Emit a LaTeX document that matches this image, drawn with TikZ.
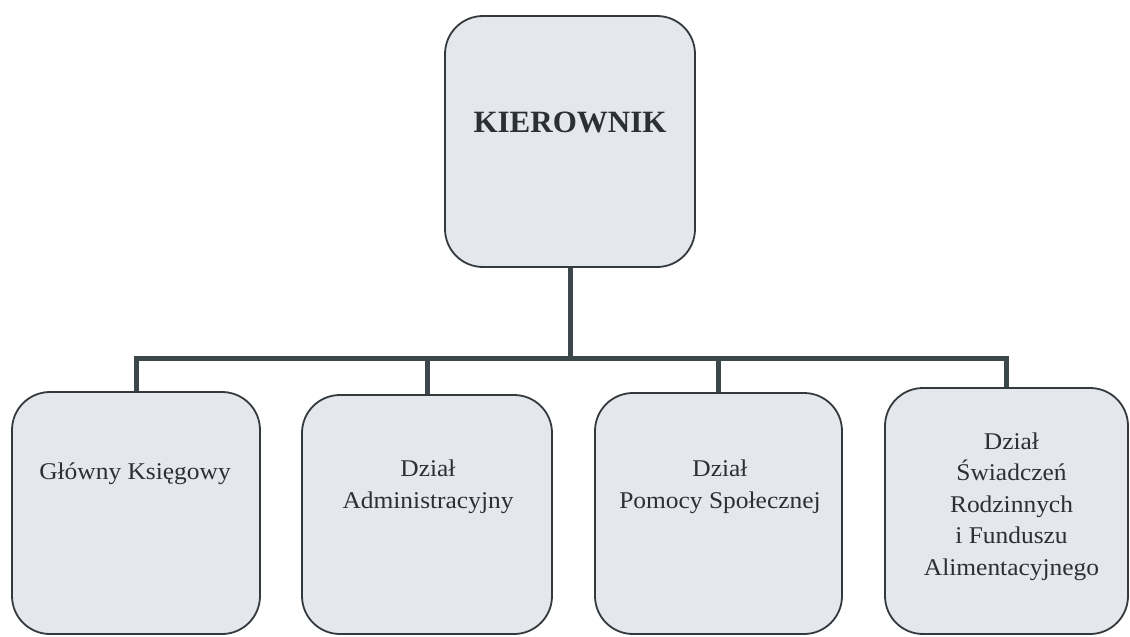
\documentclass[tikz,border=0pt]{standalone}
\usepackage{fontspec}
\setmainfont{Liberation Serif}
\newfontfamily\boxfont{Liberation Serif}[FakeStretch=1.06]
\definecolor{boxfill}{HTML}{E4E7EC}
\definecolor{boxline}{HTML}{34393D}
\definecolor{connline}{HTML}{3B474B}
\definecolor{txt}{HTML}{2B3034}
\begin{document}
\begin{tikzpicture}[x=1pt,y=-1pt,
  orgbox/.style={draw=boxline, line width=1.8pt, fill=boxfill, rounded corners=38pt, inner sep=0pt},
  conn/.style={draw=connline, line width=5pt},
  lbl/.style={text=txt, align=center, inner sep=0pt, anchor=base, font=\boxfont\fontsize{24}{31.4}\selectfont}]
\useasboundingbox (0,0) rectangle (1130,637);
\path[fill=white] (0,0) rectangle (1130,637);
\node[orgbox, minimum width=250pt, minimum height=251pt] (top) at (570,141.5) {};
\node[orgbox, minimum width=248pt, minimum height=242pt] (b1) at (136,513) {};
\node[orgbox, minimum width=250pt, minimum height=239pt] (b2) at (427,514.5) {};
\node[orgbox, minimum width=247pt, minimum height=241pt] (b3) at (718.5,513.5) {};
\node[orgbox, minimum width=243pt, minimum height=246pt] (b4) at (1006.5,511) {};
\coordinate (bus) at (570,358);
\draw[conn] (top.south) -- (bus);
\draw[conn] (b1.north) |- (bus) -| (b4.north);
\draw[conn] (b2.north) -- (b2.north |- bus);
\draw[conn] (b3.north) -- (b3.north |- bus);
\node[lbl, font=\bfseries\fontsize{31}{37}\selectfont] (t0) at (570,132) {KIEROWNIK};
\node[lbl] (t1) at (135,479) {Główny Księgowy};
\node[lbl] (t2) at (428,508) {Dział\\Administracyjny};
\node[lbl] (t3) at (720,508) {Dział\\Pomocy Społecznej};
\node[lbl] (t4) at (1011.5,575) {Dział\\Świadczeń\\Rodzinnych\\i Funduszu\\Alimentacyjnego};
\end{tikzpicture}
\end{document}
